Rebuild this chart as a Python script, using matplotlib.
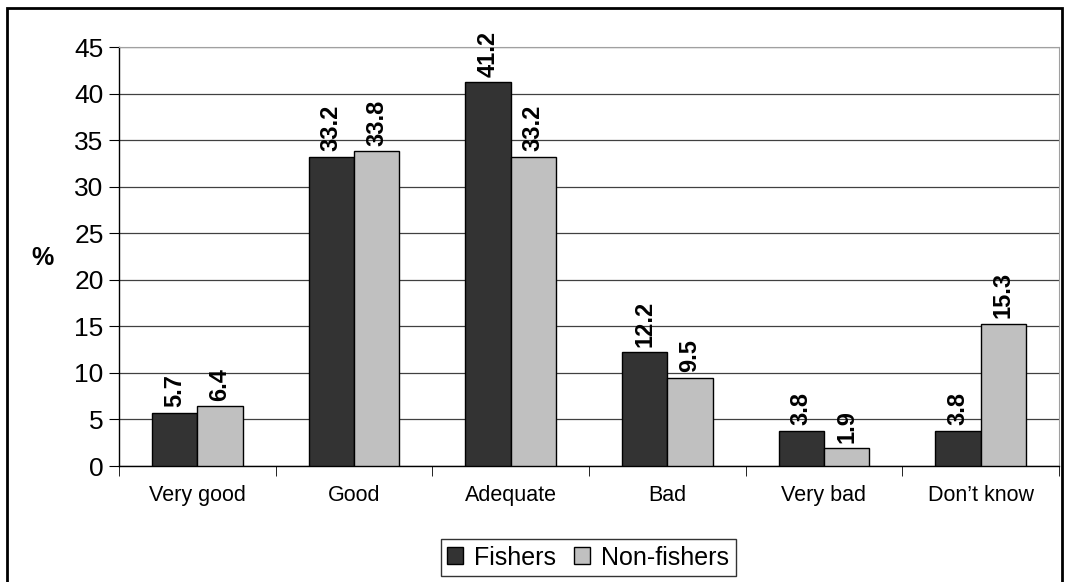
import numpy as np
import matplotlib.pyplot as plt
from matplotlib.patches import Rectangle

categories = ["Very good", "Good", "Adequate", "Bad", "Very bad", "Don\u2019t know"]
fishers = [5.7, 33.2, 41.2, 12.2, 3.8, 3.8]
non_fishers = [6.4, 33.8, 33.2, 9.5, 1.9, 15.3]
series_names = ["Fishers", "Non-fishers"]
yticks = [0, 5, 10, 15, 20, 25, 30, 35, 40, 45]

plt.rcParams['font.family'] = ['Liberation Sans', 'DejaVu Sans']

fig = plt.figure(figsize=(10.66, 5.82), dpi=100)
ax = fig.add_axes([0.1116, 0.1993, 0.8818, 0.7199])

x = np.arange(len(categories))
w = 0.29
b1 = ax.bar(x - w / 2, fishers, w, color="#333333", edgecolor="black", linewidth=1, label=series_names[0], zorder=3)
b2 = ax.bar(x + w / 2, non_fishers, w, color="#c0c0c0", edgecolor="black", linewidth=1, label=series_names[1], zorder=3)

for bars, vals in [(b1, fishers), (b2, non_fishers)]:
    for rect, v in zip(bars, vals):
        ax.annotate("%.1f" % v, (rect.get_x() + rect.get_width() / 2, v),
                    xytext=(0, 4), textcoords="offset points", rotation=90,
                    ha="center", va="bottom", fontsize=17, fontweight="bold")

ax.set_xlim(-0.5, len(categories) - 0.5)
ax.set_ylim(0, 45)
ax.set_yticks(yticks)
ax.tick_params(axis="y", labelsize=19, length=7, direction="out", pad=4)
ax.set_xticks(x)
ax.set_xticklabels(categories, fontsize=15.5)
ax.tick_params(axis="x", length=0, pad=14)
ax.set_xticks(np.arange(len(categories) + 1) - 0.5, minor=True)
ax.tick_params(axis="x", which="minor", length=7, direction="out")
ax.yaxis.grid(True, color="#404040", linewidth=0.9, zorder=0)
ax.set_axisbelow(True)
ax.spines["top"].set_color("#a0a0a0")
ax.spines["right"].set_color("#a0a0a0")
ax.spines["left"].set_linewidth(1)
ax.spines["bottom"].set_linewidth(1)

fig.text(0.040, 1 - 258 / 582, "%", fontsize=18, fontweight="bold", ha="center", va="center")

leg = fig.legend(handles=[b1, b2], labels=series_names, loc="center", bbox_to_anchor=(0.5516, 0.042),
                 ncol=2, fontsize=18, frameon=True, fancybox=False, edgecolor="black",
                 handlelength=0.65, handleheight=0.65, handletextpad=0.45, columnspacing=0.7,
                 borderpad=0.25, borderaxespad=0)
leg.get_frame().set_linewidth(1)

fig.patches.append(Rectangle((0.007, -0.05), 0.989, 1.036, transform=fig.transFigure,
                             fill=False, edgecolor="black", linewidth=2))

fig.savefig("out.png", dpi=100)
